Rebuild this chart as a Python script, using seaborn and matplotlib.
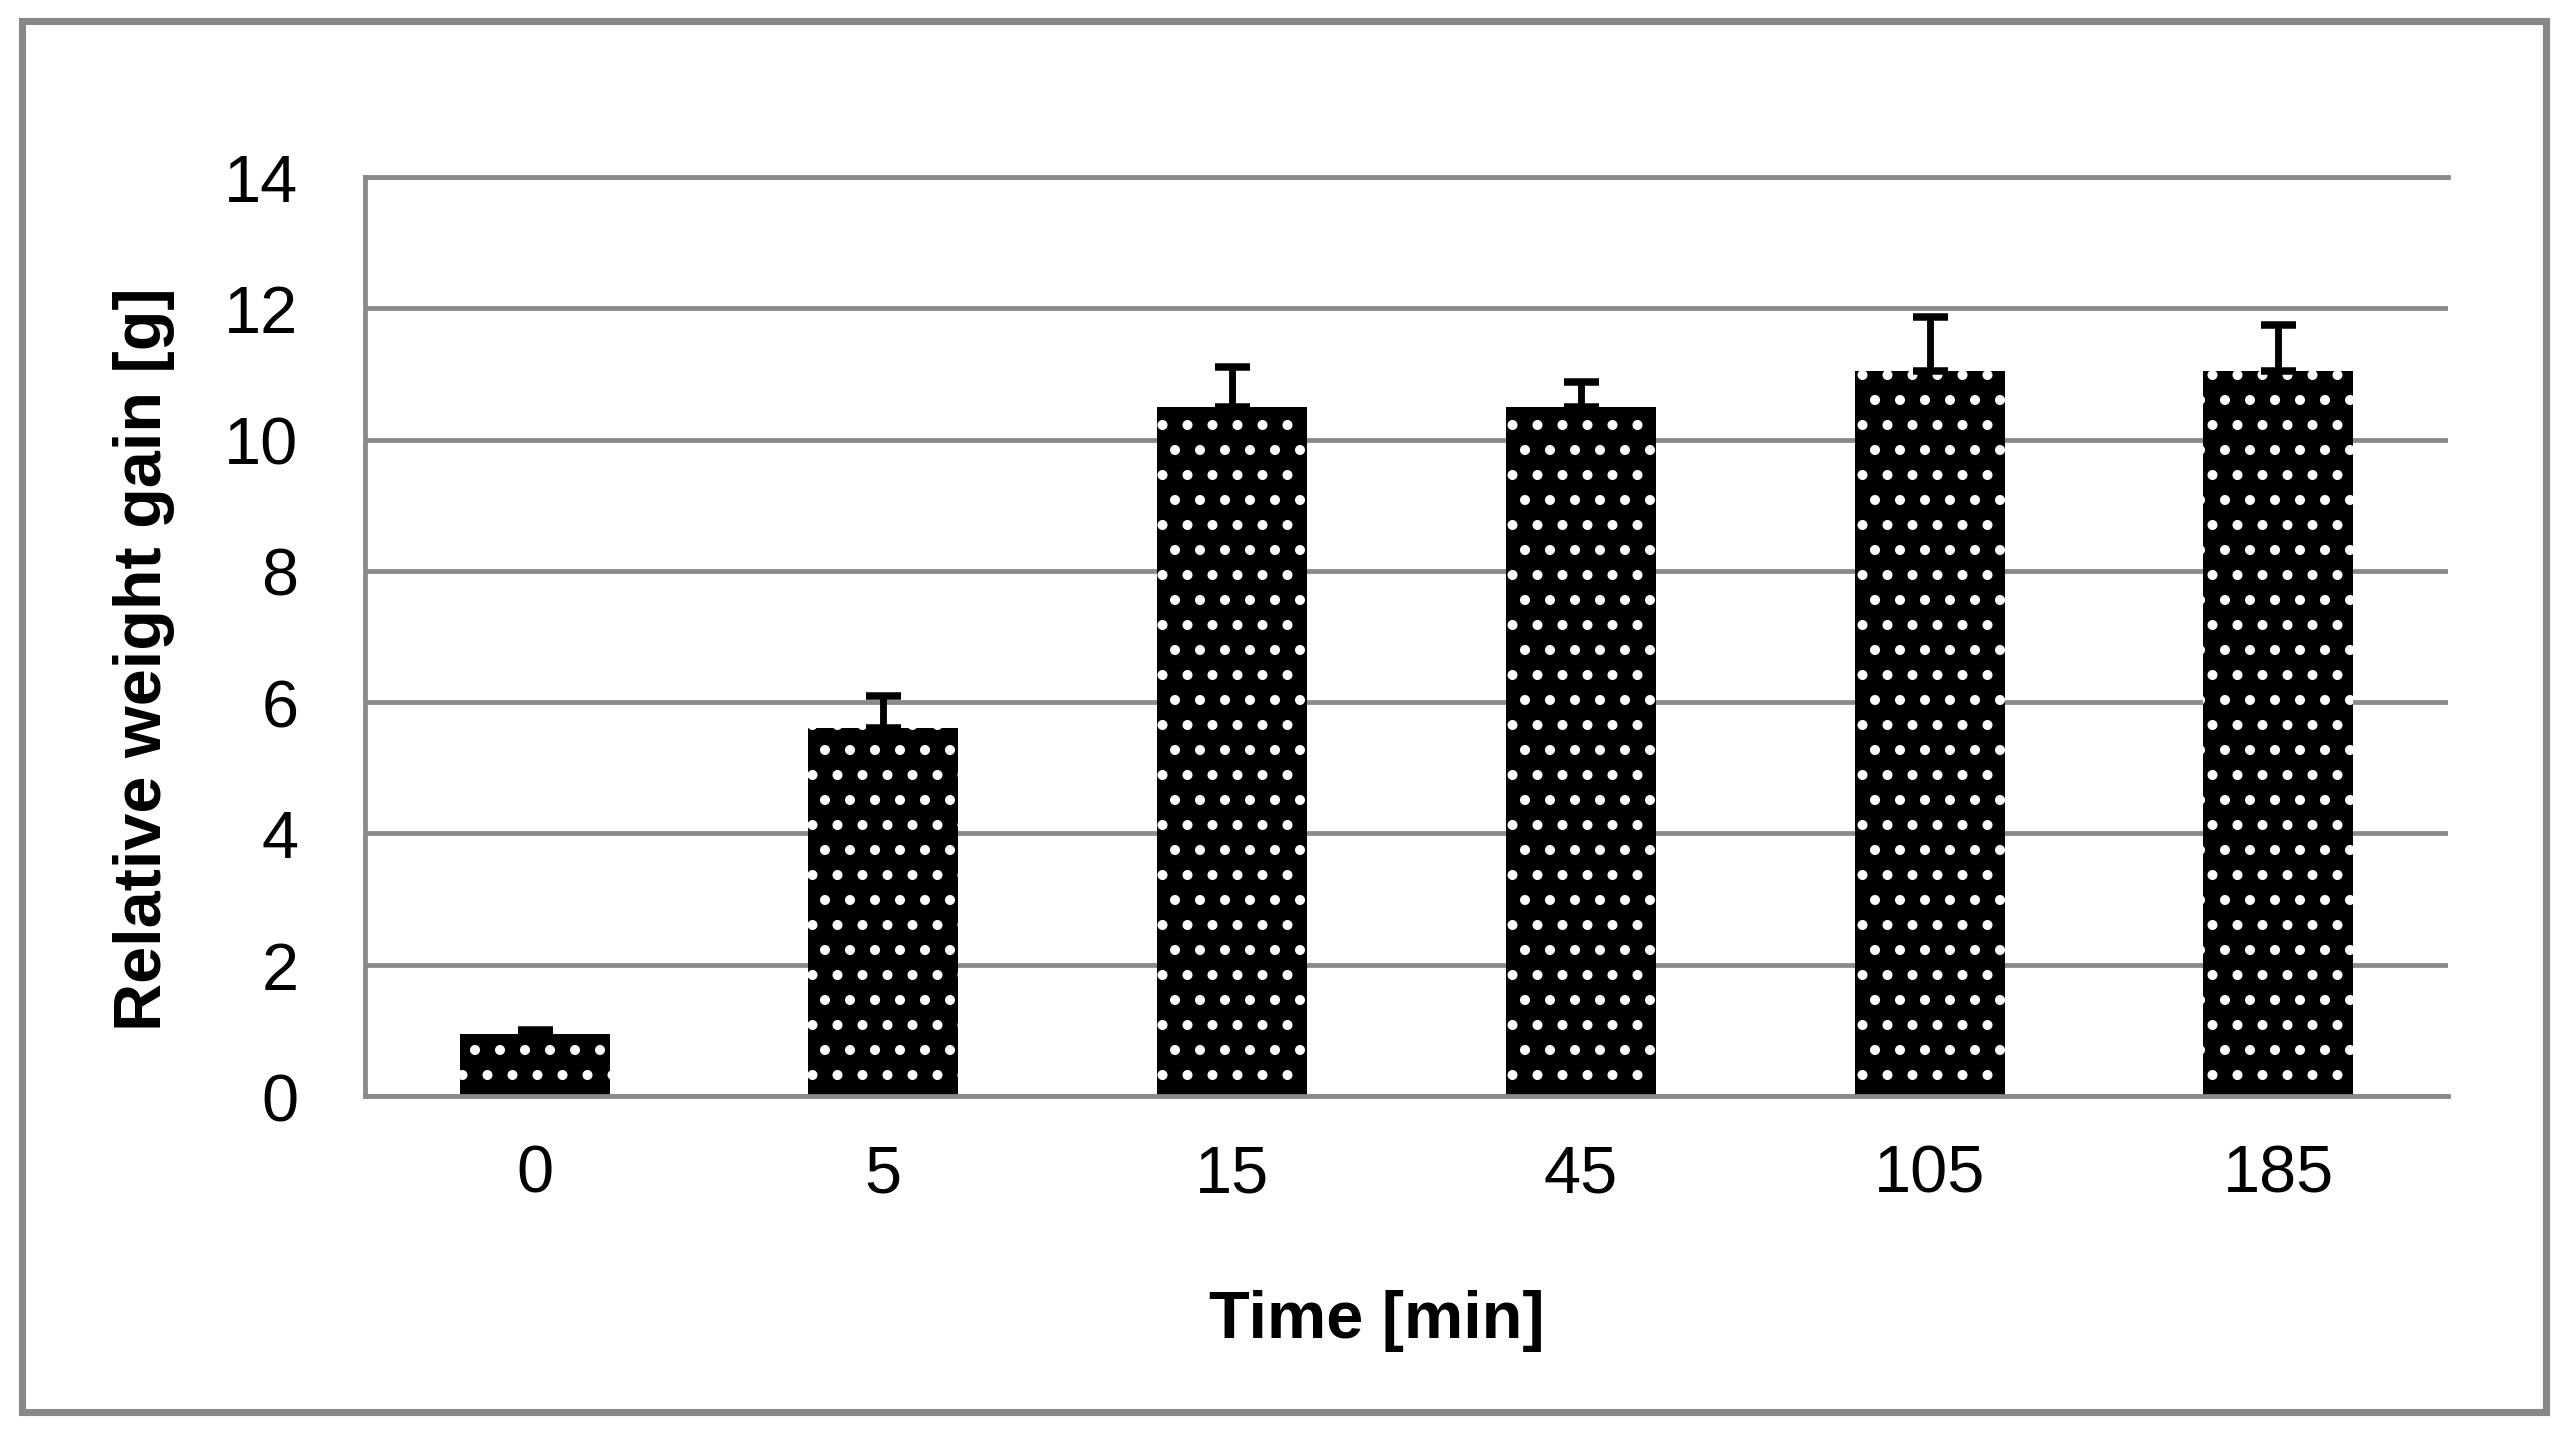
import numpy as np
import matplotlib
matplotlib.use("Agg")
import matplotlib.pyplot as plt
from matplotlib.patches import Rectangle
import seaborn as sns

# values
times = ["0", "5", "15", "45", "105", "185"]
weight_gain = [0.94, 5.6, 10.5, 10.5, 11.05, 11.05]
weight_err = [0.07, 0.5, 0.6, 0.37, 0.82, 0.7]
y_ticks = [0, 2, 4, 6, 8, 10, 12, 14]

GRID = "#8a8a8a"


def plot_weight_gain():
    sns.set_style("white")
    plt.rcParams["font.family"] = ["Liberation Sans", "DejaVu Sans"]
    plt.rcParams["hatch.linewidth"] = 2.4
    plt.rcParams["text.color"] = "black"
    plt.rcParams["axes.labelcolor"] = "black"

    fig = plt.figure(figsize=(2567 / 150, 1431 / 150), dpi=150)
    ax = fig.add_axes([0.1422, 0.2334, 0.8114, 0.6422])

    # black bars with white dot pattern (hatch takes the edge colour)
    sns.barplot(x=times, y=weight_gain, color="black", saturation=1,
                width=0.43, edgecolor="white", linewidth=0, hatch=".", ax=ax)

    # upper error bars only
    ax.errorbar(np.arange(len(times)), weight_gain,
                yerr=[np.zeros(len(times)), weight_err],
                fmt="none", ecolor="black", elinewidth=3.3,
                capsize=8.4, capthick=3.6, zorder=3)

    ax.set_ylim(0, 14)
    ax.set_yticks(y_ticks)
    ax.set_axisbelow(True)
    ax.yaxis.grid(True, color=GRID, linewidth=2.3)
    ax.xaxis.grid(False)

    for side in ["left", "bottom", "top"]:
        ax.spines[side].set_color(GRID)
        ax.spines[side].set_linewidth(2.3)
    ax.spines["right"].set_visible(False)

    ax.tick_params(axis="both", length=0, labelsize=32, colors="black")
    ax.tick_params(axis="y", pad=32)
    ax.tick_params(axis="x", pad=23)

    ax.set_xlabel("Time [min]", fontsize=32, fontweight="bold", color="black")
    ax.set_ylabel("Relative weight gain [g]", fontsize=32, fontweight="bold",
                  color="black")
    ax.xaxis.set_label_coords(0.486, -0.21)
    ax.yaxis.set_label_coords(-0.091, 0.476)

    # grey frame around the whole picture
    fig.add_artist(Rectangle((0.0086, 0.0126), 0.9832, 0.972,
                             transform=fig.transFigure, fill=False,
                             edgecolor="#888888", linewidth=3.4))

    fig.savefig("out.png", dpi=150, facecolor="white")


if __name__ == "__main__":
    plot_weight_gain()
